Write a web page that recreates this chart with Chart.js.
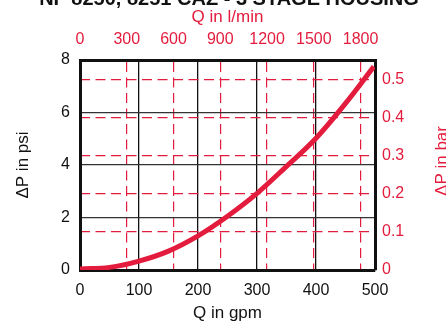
<!DOCTYPE html>
<html>
<head>
<meta charset="utf-8">
<script src="https://cdn.jsdelivr.net/npm/chart.js@4/dist/chart.umd.min.js"></script>
<style>
  body { margin: 0; background: #fff; }
  #box { width: 446px; height: 322px; position: relative; overflow: hidden; }
</style>
</head>
<body>
<div id="box"><canvas id="grafico"></canvas></div>
<script>
const tituloGrafico = "NF 8250, 8251 CAZ - 3 STAGE HOUSING";
const tituloGpm = "Q in gpm";
const tituloLmin = "Q in l/min";
const tituloPsi = "ΔP in psi";
const tituloBar = "ΔP in bar";

// curva
const vazaoGpm = [0, 50, 100, 150, 200, 250, 300, 350, 400, 450, 498];
const quedaPsi = [0.04, 0.1, 0.34, 0.72, 1.3, 2.05, 2.92, 3.95, 5.02, 6.35, 7.75];

const ticksGpm = [0, 100, 200, 300, 400, 500];
const ticksLmin = [0, 300, 600, 900, 1200, 1500, 1800];
const ticksPsi = [0, 2, 4, 6, 8];
const ticksBar = [0, 0.1, 0.2, 0.3, 0.4, 0.5];

const LMIN_POR_GPM = 3.78541;
const PSI_POR_BAR = 14.5038;

const vermelho = "#e31c3d";
const preto = "#111";
const fonte = '"Liberation Sans", Arial, sans-serif';

function fixarTicks(lista) {
  return function (scale) {
    scale.ticks = lista.map(v => ({ value: v }));
  };
}

const semMilhar = (v) => String(v);

const textosExtras = {
  id: "textosExtras",
  afterDraw(chart) {
    const ctx = chart.ctx;
    ctx.save();
    ctx.fillStyle = preto;
    ctx.font = "bold 20px " + fonte;
    ctx.textAlign = "center";
    ctx.textBaseline = "alphabetic";
    ctx.fillText(tituloGrafico, 229, 4.5);
    ctx.translate(442, 161);
    ctx.rotate(-Math.PI / 2);
    ctx.fillStyle = vermelho;
    ctx.font = "17px " + fonte;
    ctx.textBaseline = "middle";
    ctx.fillText(tituloBar, 0, 0);
    ctx.restore();
  }
};

const corTracejado = (c) => (c.tick && c.tick.value === 0 ? "rgba(0,0,0,0)" : vermelho);

new Chart(document.getElementById("grafico"), {
  type: "line",
  data: {
    datasets: [{
      data: vazaoGpm.map((v, i) => ({ x: v, y: quedaPsi[i] })),
      borderColor: vermelho,
      borderWidth: 5,
      pointRadius: 0,
      tension: 0.4,
      fill: false,
      xAxisID: "x",
      yAxisID: "y"
    }]
  },
  options: {
    responsive: true,
    maintainAspectRatio: false,
    animation: false,
    layout: { padding: 0 },
    plugins: { legend: { display: false }, tooltip: { enabled: false } },
    scales: {
      x: {
        type: "linear", position: "bottom", min: 0, max: 500,
        afterBuildTicks: fixarTicks(ticksGpm),
        afterFit(s) { s.height = 52; },
        grid: { color: preto, lineWidth: 1.3, drawTicks: false },
        border: { color: preto, width: 3 },
        ticks: { color: preto, padding: 11, callback: semMilhar, font: { family: fonte, size: 16 } },
        title: { display: true, text: tituloGpm, color: preto, padding: { top: 0, bottom: 0.5 },
                 font: { family: fonte, size: 17, lineHeight: 1 } }
      },
      x2: {
        type: "linear", position: "top", min: 0, max: 500 * LMIN_POR_GPM,
        afterBuildTicks: fixarTicks(ticksLmin),
        afterFit(s) { s.height = 60; },
        grid: { color: corTracejado, lineWidth: 1.2, drawTicks: false },
        border: { color: preto, width: 3, dash: [10, 5.5] },
        ticks: { color: vermelho, padding: 11, callback: semMilhar, font: { family: fonte, size: 16 } },
        title: { display: true, text: tituloLmin, color: vermelho, padding: { top: 9, bottom: 0 },
                 font: { family: fonte, size: 17, lineHeight: 1 } }
      },
      y: {
        type: "linear", position: "left", min: 0, max: 8,
        afterBuildTicks: fixarTicks(ticksPsi),
        afterFit(s) { s.width = 80; },
        grid: { color: "#333", lineWidth: 1.3, drawTicks: false },
        border: { color: preto, width: 3 },
        ticks: { color: preto, padding: 10, callback: semMilhar, font: { family: fonte, size: 16 } },
        title: { display: true, text: tituloPsi, color: preto, padding: { top: 15, bottom: 0 },
                 font: { family: fonte, size: 17, lineHeight: 1 } }
      },
      y2: {
        type: "linear", position: "right", min: 0, max: 8 / PSI_POR_BAR,
        afterBuildTicks: fixarTicks(ticksBar),
        afterFit(s) { s.width = 71; },
        grid: { color: corTracejado, lineWidth: 1.2, drawTicks: false },
        border: { color: preto, width: 3, dash: [10, 5.5] },
        ticks: { color: vermelho, padding: 7, callback: semMilhar, font: { family: fonte, size: 16 } }
      }
    }
  },
  plugins: [textosExtras]
});
</script>
</body>
</html>
